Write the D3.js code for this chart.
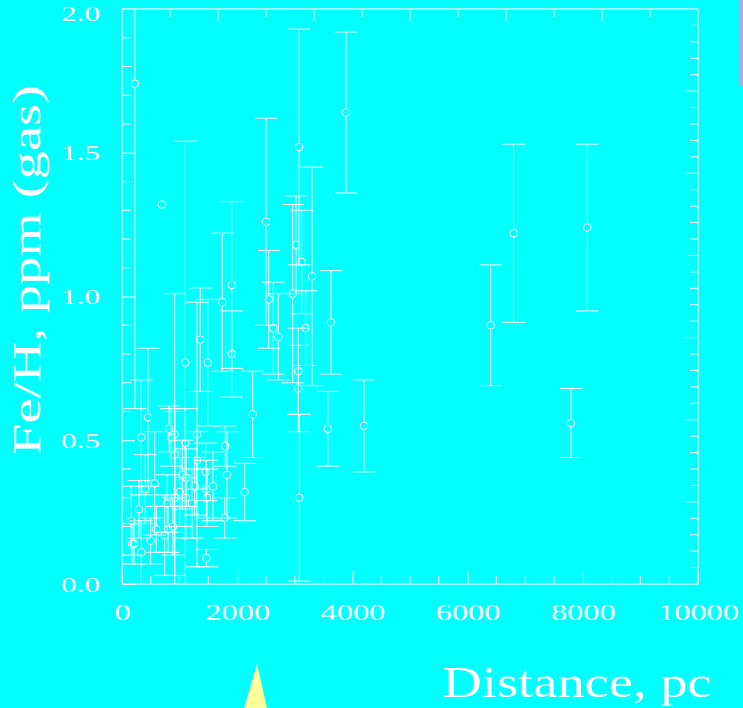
<!DOCTYPE html>
<html>
<head>
<meta charset="utf-8">
<script src="https://cdn.jsdelivr.net/npm/d3@7"></script>
<style>
  html, body { margin: 0; padding: 0; background: #00ffff; }
  svg { display: block; }
  text { font-family: "Liberation Serif", "DejaVu Serif", serif; fill: #ffffff; }
</style>
</head>
<body>
<svg id="chart" width="743" height="708"></svg>
<script>
// Distance to each sight line (pc)
const distance = [
  226, 694, 3075, 3889, 2500, 1099, 1741, 1905, 1905, 1359,
  1488, 2269, 2547, 2627, 2714, 2963, 3021, 3120, 3299, 3189,
  3061, 3061, 3078, 3628, 3574, 4201, 6401, 6800, 7795, 8079,
  2130, 1783, 1793, 1823, 451, 335, 816, 915, 856, 1302,
  1099, 915, 1302, 1453, 1047, 1116, 568, 405, 1262, 1580,
  1464, 1002, 915, 1106, 1476, 786, 1215, 295, 161, 595,
  885, 799, 741, 498, 174, 208, 335, 1464
];
// Gas-phase Fe/H (ppm)
const feh = [
  1.74, 1.32, 1.52, 1.64, 1.26, 0.77, 0.98, 1.04, 0.80, 0.85,
  0.77, 0.59, 0.99, 0.89, 0.86, 1.01, 1.18, 1.12, 1.07, 0.89,
  0.74, 0.68, 0.30, 0.91, 0.54, 0.55, 0.90, 1.22, 0.56, 1.24,
  0.32, 0.23, 0.48, 0.38, 0.58, 0.51, 0.54, 0.52, 0.51, 0.52,
  0.49, 0.45, 0.43, 0.39, 0.38, 0.37, 0.35, 0.33, 0.34, 0.34,
  0.33, 0.32, 0.30, 0.30, 0.30, 0.28, 0.28, 0.26, 0.22, 0.19,
  0.20, 0.19, 0.17, 0.15, 0.14, 0.14, 0.11, 0.09
];
// One-sigma uncertainty on Fe/H (ppm)
const fehErr = [
  1.13, 0.00, 0.41, 0.28, 0.36, 0.77, 0.24, 0.29, 0.15, 0.18,
  0.22, 0.15, 0.17, 0.16, 0.15, 0.31, 0.17, 0.18, 0.38, 0.13,
  0.15, 0.15, 0.29, 0.18, 0.13, 0.16, 0.21, 0.31, 0.12, 0.29,
  0.10, 0.07, 0.07, 0.15, 0.24, 0.20, 0.08, 0.49, 0.10, 0.46,
  0.12, 0.15, 0.10, 0.10, 0.12, 0.10, 0.18, 0.12, 0.10, 0.12,
  0.10, 0.12, 0.30, 0.14, 0.10, 0.10, 0.12, 0.10, 0.12, 0.08,
  0.10, 0.08, 0.14, 0.08, 0.07, 0.07, 0.11, 0.03
];

const xMajorTicks = [0, 2000, 4000, 6000, 8000, 10000];
const yMajorTicks = [0.0, 0.5, 1.0, 1.5, 2.0];

(function draw() {
  const svg = d3.select("#chart");
  const W = 743, H = 708;
  const pL = 122, pR = 698, pT = 9, pB = 584;

  svg.append("rect").attr("width", W).attr("height", H).attr("fill", "#00ffff");

  const x = d3.scaleLinear().domain([0, 10000]).range([pL, pR]);
  const y = d3.scaleLinear().domain([0, 2]).range([pB, pT]);
  // secondary frame divisions used on the top and right edges
  const xTop = d3.scaleLinear().domain([0, 12]).range([pL, pR]);
  const yRight = d3.scaleLinear().domain([0, 35]).range([pB, pT]);

  svg.append("clipPath").attr("id", "plot-clip")
    .append("rect").attr("x", pL).attr("y", pT)
    .attr("width", pR - pL).attr("height", pB - pT);

  const white = "#ffffff";

  // frame
  svg.append("rect")
    .attr("x", pL).attr("y", pT)
    .attr("width", pR - pL).attr("height", pB - pT)
    .attr("fill", "none").attr("stroke", white).attr("stroke-width", 1.2);

  // bottom axis: major ticks + labels
  const bottomAxis = d3.axisBottom(x).tickValues(xMajorTicks)
    .tickSize(-13).tickPadding(20).tickFormat(d3.format("d"));
  const gB = svg.append("g").attr("transform", `translate(0,${pB})`).call(bottomAxis);
  gB.select(".domain").remove();
  gB.selectAll("line").attr("stroke", white);
  gB.selectAll("text")
    .attr("font-size", 23)
    .attr("fill", white)
    .attr("textLength", d => String(d).length * 16.2)
    .attr("lengthAdjust", "spacingAndGlyphs");
  // bottom minor ticks every 500 pc
  svg.append("g").selectAll("line")
    .data(d3.range(0, 10001, 500).filter(v => v % 2000 !== 0))
    .join("line")
    .attr("x1", d => x(d)).attr("x2", d => x(d))
    .attr("y1", pB).attr("y2", pB - 8)
    .attr("stroke", white);

  // left axis: major ticks + labels
  const leftAxis = d3.axisLeft(y).tickValues(yMajorTicks)
    .tickSize(-13).tickPadding(22).tickFormat(d3.format(".1f"));
  const gL = svg.append("g").attr("transform", `translate(${pL},0)`).call(leftAxis);
  gL.select(".domain").remove();
  gL.selectAll("line").attr("stroke", white);
  gL.selectAll("text")
    .attr("font-size", 22)
    .attr("fill", white)
    .attr("dy", d => d === 2 ? "0.52em" : "0.32em")
    .attr("textLength", 39)
    .attr("lengthAdjust", "spacingAndGlyphs");
  // left minor ticks every 0.1
  svg.append("g").selectAll("line")
    .data(d3.range(1, 20).filter(i => i % 5 !== 0).map(i => i / 10))
    .join("line")
    .attr("x1", pL).attr("x2", pL + 9)
    .attr("y1", d => y(d)).attr("y2", d => y(d))
    .attr("stroke", white);

  // top edge ticks
  svg.append("g").selectAll("line")
    .data(d3.range(1, 12))
    .join("line")
    .attr("x1", d => xTop(d)).attr("x2", d => xTop(d))
    .attr("y1", pT).attr("y2", d => pT + (d % 2 === 0 ? 12 : 8))
    .attr("stroke", white);

  // right edge ticks
  svg.append("g").selectAll("line")
    .data(d3.range(1, 35))
    .join("line")
    .attr("x1", pR).attr("x2", d => pR - (d % 5 === 0 ? 13 : 8))
    .attr("y1", d => yRight(d)).attr("y2", d => yRight(d))
    .attr("stroke", white);

  // data: error bars + open circles
  const pts = distance.map((d, i) => ({ d, v: feh[i], e: fehErr[i] }));
  const r = 3.8, capHalf = 11.3;
  const gData = svg.append("g").attr("clip-path", "url(#plot-clip)");

  const bars = gData.append("g").selectAll("g")
    .data(pts.filter(p => p.e > 0))
    .join("g")
    .attr("stroke", white).attr("stroke-width", 1);
  bars.append("line") // upper whisker
    .attr("x1", p => x(p.d)).attr("x2", p => x(p.d))
    .attr("y1", p => y(p.v) - r).attr("y2", p => y(p.v + p.e));
  bars.append("line") // lower whisker
    .attr("x1", p => x(p.d)).attr("x2", p => x(p.d))
    .attr("y1", p => y(p.v) + r).attr("y2", p => y(Math.max(p.v - p.e, -0.1)));
  bars.append("line") // upper cap
    .attr("x1", p => x(p.d) - capHalf).attr("x2", p => x(p.d) + capHalf)
    .attr("y1", p => y(p.v + p.e)).attr("y2", p => y(p.v + p.e));
  bars.append("line") // lower cap
    .attr("x1", p => x(p.d) - capHalf).attr("x2", p => x(p.d) + capHalf)
    .attr("y1", p => y(p.v - p.e)).attr("y2", p => y(p.v - p.e));

  gData.append("g").selectAll("circle")
    .data(pts)
    .join("circle")
    .attr("cx", p => x(p.d)).attr("cy", p => y(p.v)).attr("r", r)
    .attr("fill", "none").attr("stroke", white).attr("stroke-width", 1);

  // axis titles
  svg.append("text")
    .attr("transform", "translate(40,270) rotate(-90)")
    .attr("text-anchor", "middle")
    .attr("font-size", 40)
    .attr("textLength", 370).attr("lengthAdjust", "spacingAndGlyphs")
    .text("Fe/H, ppm (gas)");
  svg.append("text")
    .attr("x", 577).attr("y", 697)
    .attr("text-anchor", "middle")
    .attr("font-size", 44)
    .attr("textLength", 269).attr("lengthAdjust", "spacingAndGlyphs")
    .text("Distance, pc");

  // pointer marker below the axis
  svg.append("polygon")
    .attr("points", [[257, 664], [244, 708], [267, 708]].map(p => p.join(",")).join(" "))
    .attr("fill", "#ffff99");
  // strip at the upper right edge
  svg.append("rect")
    .attr("x", 739).attr("y", 0).attr("width", 4).attr("height", 86)
    .attr("fill", "#c8a0d8");
})();
</script>
</body>
</html>
